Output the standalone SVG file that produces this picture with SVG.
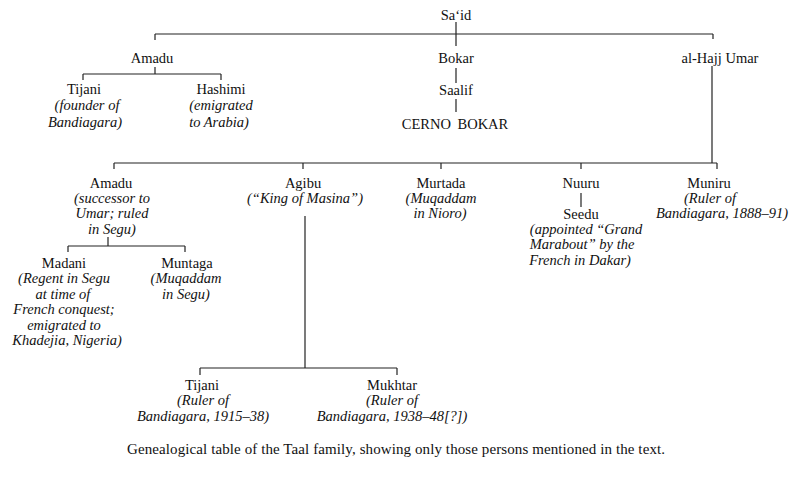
<svg xmlns="http://www.w3.org/2000/svg" width="801" height="479" viewBox="0 0 801 479">
<style>
text{font-family:"Liberation Serif","Times New Roman",serif;font-size:14.5px;fill:#111;text-anchor:middle}
.i{font-style:italic;font-size:14.5px}
.cap{font-size:15px}
#connectors line{stroke:#222;stroke-width:1.2;fill:none}
</style>
<rect width="801" height="479" fill="#fff"/>
<g id="connectors">
<line x1="456" y1="22" x2="456" y2="46"/>
<line x1="155" y1="34" x2="713" y2="34"/>
<line x1="155" y1="34" x2="155" y2="40"/>
<line x1="713" y1="34" x2="713" y2="39"/>
<line x1="155" y1="67" x2="155" y2="74"/>
<line x1="83" y1="74" x2="221" y2="74"/>
<line x1="83" y1="74" x2="83" y2="80"/>
<line x1="221" y1="74" x2="221" y2="80"/>
<line x1="456" y1="68" x2="456" y2="83"/>
<line x1="456" y1="99" x2="456" y2="112"/>
<line x1="712" y1="66" x2="712" y2="163"/>
<line x1="114" y1="163" x2="717" y2="163"/>
<line x1="114" y1="163" x2="114" y2="169"/>
<line x1="303" y1="163" x2="303" y2="169"/>
<line x1="441" y1="163" x2="441" y2="169"/>
<line x1="581" y1="163" x2="581" y2="169"/>
<line x1="717" y1="163" x2="717" y2="169"/>
<line x1="581" y1="193" x2="581" y2="207"/>
<line x1="108" y1="237" x2="108" y2="246"/>
<line x1="68" y1="246" x2="185" y2="246"/>
<line x1="68" y1="246" x2="68" y2="252"/>
<line x1="185" y1="246" x2="185" y2="252"/>
<line x1="305" y1="216" x2="305" y2="368"/>
<line x1="200" y1="368" x2="397" y2="368"/>
<line x1="200" y1="368" x2="200" y2="375"/>
<line x1="397" y1="368" x2="397" y2="375"/>
</g>
<g id="said"><text x="456" y="20">Sa‘id</text></g>
<g id="amadu1"><text x="152" y="63">Amadu</text></g>
<g id="bokar"><text x="456" y="63">Bokar</text></g>
<g id="alhajj-umar"><text x="720" y="63">al-Hajj Umar</text></g>
<g id="tijani1"><text x="84" y="94">Tijani</text><text class="i" x="87" y="110">(founder of</text><text class="i" x="85" y="127">Bandiagara)</text></g>
<g id="hashimi"><text x="221" y="94">Hashimi</text><text class="i" x="221" y="110">(emigrated</text><text class="i" x="219" y="127">to Arabia)</text></g>
<g id="saalif"><text x="456" y="95">Saalif</text></g>
<g id="cerno-bokar"><text x="455" y="129" style="word-spacing:3px">CERNO BOKAR</text></g>
<g id="amadu2"><text x="111" y="188">Amadu</text><text class="i" x="112" y="203">(successor to</text><text class="i" x="112" y="218">Umar; ruled</text><text class="i" x="112" y="234">in Segu)</text></g>
<g id="agibu"><text x="303" y="188">Agibu</text><text class="i" x="305" y="203">(“King of Masina”)</text></g>
<g id="murtada"><text x="441" y="188">Murtada</text><text class="i" x="441" y="203">(Muqaddam</text><text class="i" x="440" y="218">in Nioro)</text></g>
<g id="nuuru"><text x="581" y="188">Nuuru</text></g>
<g id="seedu"><text x="581" y="219">Seedu</text><text class="i" x="586" y="234">(appointed “Grand</text><text class="i" x="582" y="249">Marabout” by the</text><text class="i" x="580" y="265">French in Dakar)</text></g>
<g id="muniru"><text x="709" y="188">Muniru</text><text class="i" x="710" y="203">(Ruler of</text><text class="i" x="722" y="218">Bandiagara, 1888–91)</text></g>
<g id="madani"><text x="64" y="268">Madani</text><text class="i" x="64" y="283">(Regent in Segu</text><text class="i" x="63" y="299">at time of</text><text class="i" x="64" y="314">French conquest;</text><text class="i" x="64" y="330">emigrated to</text><text class="i" x="67" y="345">Khadejia, Nigeria)</text></g>
<g id="muntaga"><text x="187" y="268">Muntaga</text><text class="i" x="186" y="283">(Muqaddam</text><text class="i" x="186" y="299">in Segu)</text></g>
<g id="tijani2"><text x="202" y="390">Tijani</text><text class="i" x="203" y="405">(Ruler of</text><text class="i" x="203" y="421">Bandiagara, 1915–38)</text></g>
<g id="mukhtar"><text x="392" y="390">Mukhtar</text><text class="i" x="392" y="405">(Ruler of</text><text class="i" x="392" y="421">Bandiagara, 1938–48[?])</text></g>
<text class="cap" x="396" y="454" textLength="538" lengthAdjust="spacing">Genealogical table of the Taal family, showing only those persons mentioned in the text.</text>
</svg>
